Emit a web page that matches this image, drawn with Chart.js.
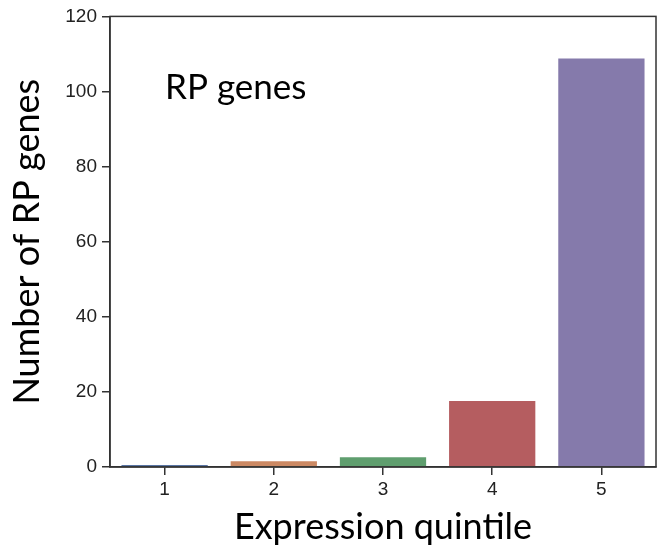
<!DOCTYPE html>
<html>
<head>
<meta charset="utf-8">
<script src="https://cdn.jsdelivr.net/npm/chart.js@4"></script>
<style>
  html, body { margin: 0; padding: 0; background: #fff; }
  #wrap { width: 657px; height: 555px; }
</style>
</head>
<body>
<div id="wrap"><canvas id="chart" width="657" height="555"></canvas></div>
<script>
// Dados
const quintiles = ['1', '2', '3', '4', '5'];
const rpCounts = [0.5, 1.5, 2.6, 17.6, 108.8];
const barColors = ['#5975a4', '#cc8963', '#5f9e6e', '#b55d60', '#857aab'];
const yTicks = [0, 20, 40, 60, 80, 100, 120];

const titleFont = "Lato, 'Open Sans', sans-serif";
const tickFont = "'Liberation Sans', Arial, sans-serif";
const axisColor = '#333333';

// moldura do gráfico + texto "RP genes"
const frame = {
    id: 'frame',
    afterDatasetsDraw(chart) {
        const { ctx, chartArea } = chart;
        ctx.save();
        ctx.strokeStyle = axisColor;
        ctx.lineWidth = 1.5;
        ctx.strokeRect(chartArea.left, chartArea.top, chartArea.right - chartArea.left, chartArea.bottom - chartArea.top);
        ctx.fillStyle = '#000';
        ctx.font = '35px ' + titleFont;
        ctx.textBaseline = 'alphabetic';
        ctx.fillText('RP genes', 165, 99);
        ctx.restore();
    }
};

new Chart(document.getElementById('chart'), {
    type: 'bar',
    data: {
        labels: quintiles,
        datasets: [{
            data: rpCounts,
            backgroundColor: barColors,
            borderWidth: 0,
            barPercentage: 0.79,
            categoryPercentage: 1
        }]
    },
    options: {
        responsive: false,
        animation: false,
        layout: { padding: { top: 16, right: 1, left: 0, bottom: 0 } },
        plugins: {
            legend: { display: false },
            tooltip: { enabled: false }
        },
        scales: {
            x: {
                grid: { offset: false, drawOnChartArea: false, drawTicks: true, tickLength: 8, color: axisColor, lineWidth: 1.5 },
                border: { color: axisColor, width: 1.5 },
                ticks: { color: '#222', font: { family: tickFont, size: 19 }, padding: 3 },
                title: {
                    display: true,
                    text: 'Expression quintile',
                    color: '#000',
                    font: { family: titleFont, size: 36 },
                    padding: { top: 0, bottom: 6 }
                },
                afterFit(scale) { scale.height = 88; }
            },
            y: {
                min: 0,
                max: 120,
                afterBuildTicks(scale) { scale.ticks = yTicks.map(v => ({ value: v })); },
                grid: { drawOnChartArea: false, drawTicks: true, tickLength: 8, color: axisColor, lineWidth: 1.5 },
                border: { color: axisColor, width: 1.5 },
                ticks: { color: '#222', font: { family: tickFont, size: 19 }, padding: 5 },
                title: {
                    display: true,
                    text: 'Number of RP genes',
                    color: '#000',
                    font: { family: titleFont, size: 36 },
                    padding: { top: 6, bottom: 0 }
                },
                afterFit(scale) { scale.width = 110; }
            }
        }
    },
    plugins: [frame]
});
</script>
</body>
</html>
